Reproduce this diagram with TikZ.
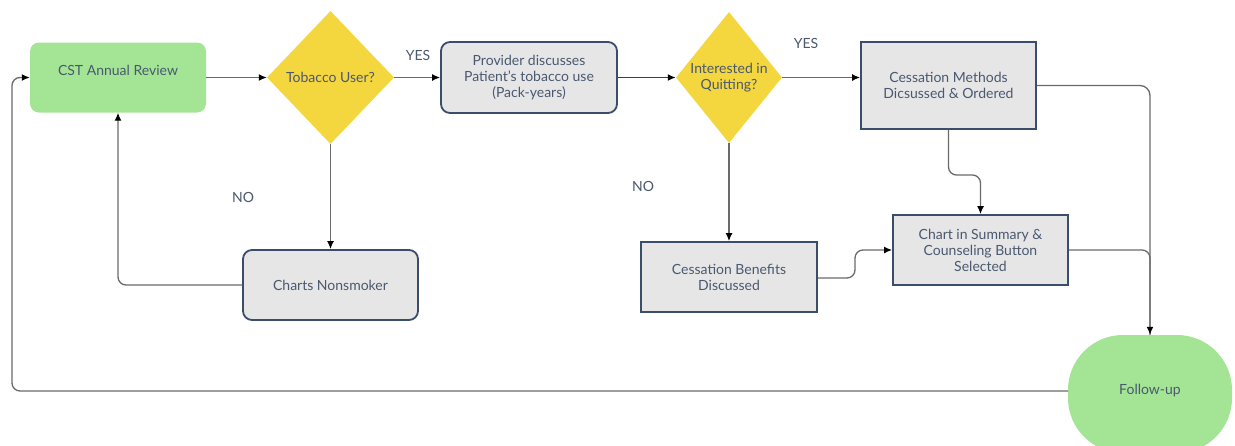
\documentclass[tikz,border=0pt]{standalone}
\usepackage{fontspec}
\setmainfont{Lato}
\usetikzlibrary{shapes.geometric,arrows.meta}
\definecolor{gfill}{HTML}{A3E595}
\definecolor{yfill}{HTML}{F4D63E}
\definecolor{bfill}{HTML}{E6E6E6}
\definecolor{bdraw}{HTML}{3A4D6B}
\definecolor{tcol}{HTML}{4A5870}
\definecolor{lcol}{HTML}{6A6A6A}
\tikzset{
  txt/.style={text=tcol, font=\fontsize{14}{16}\selectfont, align=center, inner sep=0pt},
  greenbox/.style={fill=gfill, draw=none, rounded corners=9pt, minimum width=176pt, minimum height=70pt, inner sep=0pt},
  graybox/.style={txt, fill=bfill, draw=bdraw, line width=1.8pt, rounded corners=9pt, inner sep=0pt},
  sqbox/.style={txt, fill=bfill, draw=bdraw, line width=1.8pt, inner sep=0pt},
  dia/.style={txt, shape=diamond, fill=yfill, draw=none, inner sep=0pt},
  conn/.style={draw=lcol, line width=1.3pt, rounded corners=8pt},
  arr/.style={conn, -{Latex[length=8pt,width=7pt,color=black]}},
}
\begin{document}
\begin{tikzpicture}[x=1pt,y=-1pt]
\clip (0,0) rectangle (1235,445);
\fill[white] (0,0) rectangle (1235,445);

% nodes
\node[greenbox] (cst) at (118,77.5) {};
\node[txt] (cstt) at (118,70) {CST Annual Review};
\node[dia, minimum width=127pt, minimum height=133pt] (tob) at (330.5,77.5) {Tobacco User?};
\node[graybox, minimum width=176pt, minimum height=71pt] (prov) at (529,77.5) {Provider discusses\\Patient's tobacco use\\(Pack-years)};
\node[dia, minimum width=98pt, minimum height=131pt] (int) at (729,77.5) {Interested in\\Quitting?};
\node[sqbox, minimum width=175pt, minimum height=87pt] (meth) at (948.5,85.5) {Cessation Methods\\Dicsussed \& Ordered};
\node[graybox, minimum width=175pt, minimum height=70pt] (non) at (330.5,285) {Charts Nonsmoker};
\node[sqbox, minimum width=176pt, minimum height=70pt] (ben) at (729,277) {Cessation Benefits\\Discussed};
\node[sqbox, minimum width=175pt, minimum height=70pt] (chart) at (980.5,250) {Chart in Summary \&\\Counseling Button\\Selected};
\node[fill=gfill, draw=none, rounded corners=55pt, minimum width=164pt, minimum height=118pt, inner sep=0pt] (fu) at (1150,394) {};
\node[txt] (fut) at (1150,391) {Follow-up};

% labels
\node[txt] (yes1) at (418,55) {YES};
\node[txt] (yes2) at (806,43) {YES};
\node[txt] (no1) at (243,197) {NO};
\node[txt] (no2) at (643,186) {NO};

% connectors
\coordinate (fuw) at (1068,391);
\coordinate (ml) at (12,391);
\coordinate (mt) at (12,77.5);
\draw[arr] (cst.east) -- (tob.west);
\draw[arr] (tob.east) -- (prov.west);
\draw[arr, line width=1.8pt, draw=black!75] (prov.east) -- (int.west);
\draw[arr] (int.east) -- (int.east -| meth.west);
\draw[arr] (tob.south) -- (non.north);
\draw[arr] (non.west) -| (cst.south);
\draw[arr] (int.south) -- (ben.north);
\coordinate (m1) at (948.5,175);
\coordinate (m2) at (980.5,175);
\draw[arr] (meth.south) -- (m1) -- (m2) -- (chart.north);
\coordinate (b1) at (855,278);
\coordinate (b2) at (855,250);
\draw[arr] (ben.east |- b1) -- (b1) -- (b2) -- (chart.west);
\draw[conn] (chart.east) -| (fu.north);
\draw[arr, rounded corners=10pt] (meth.east) -| (fu.north);
\draw[arr] (fuw) -- (ml) -- (mt) -- (cst.west);
\end{tikzpicture}
\end{document}
